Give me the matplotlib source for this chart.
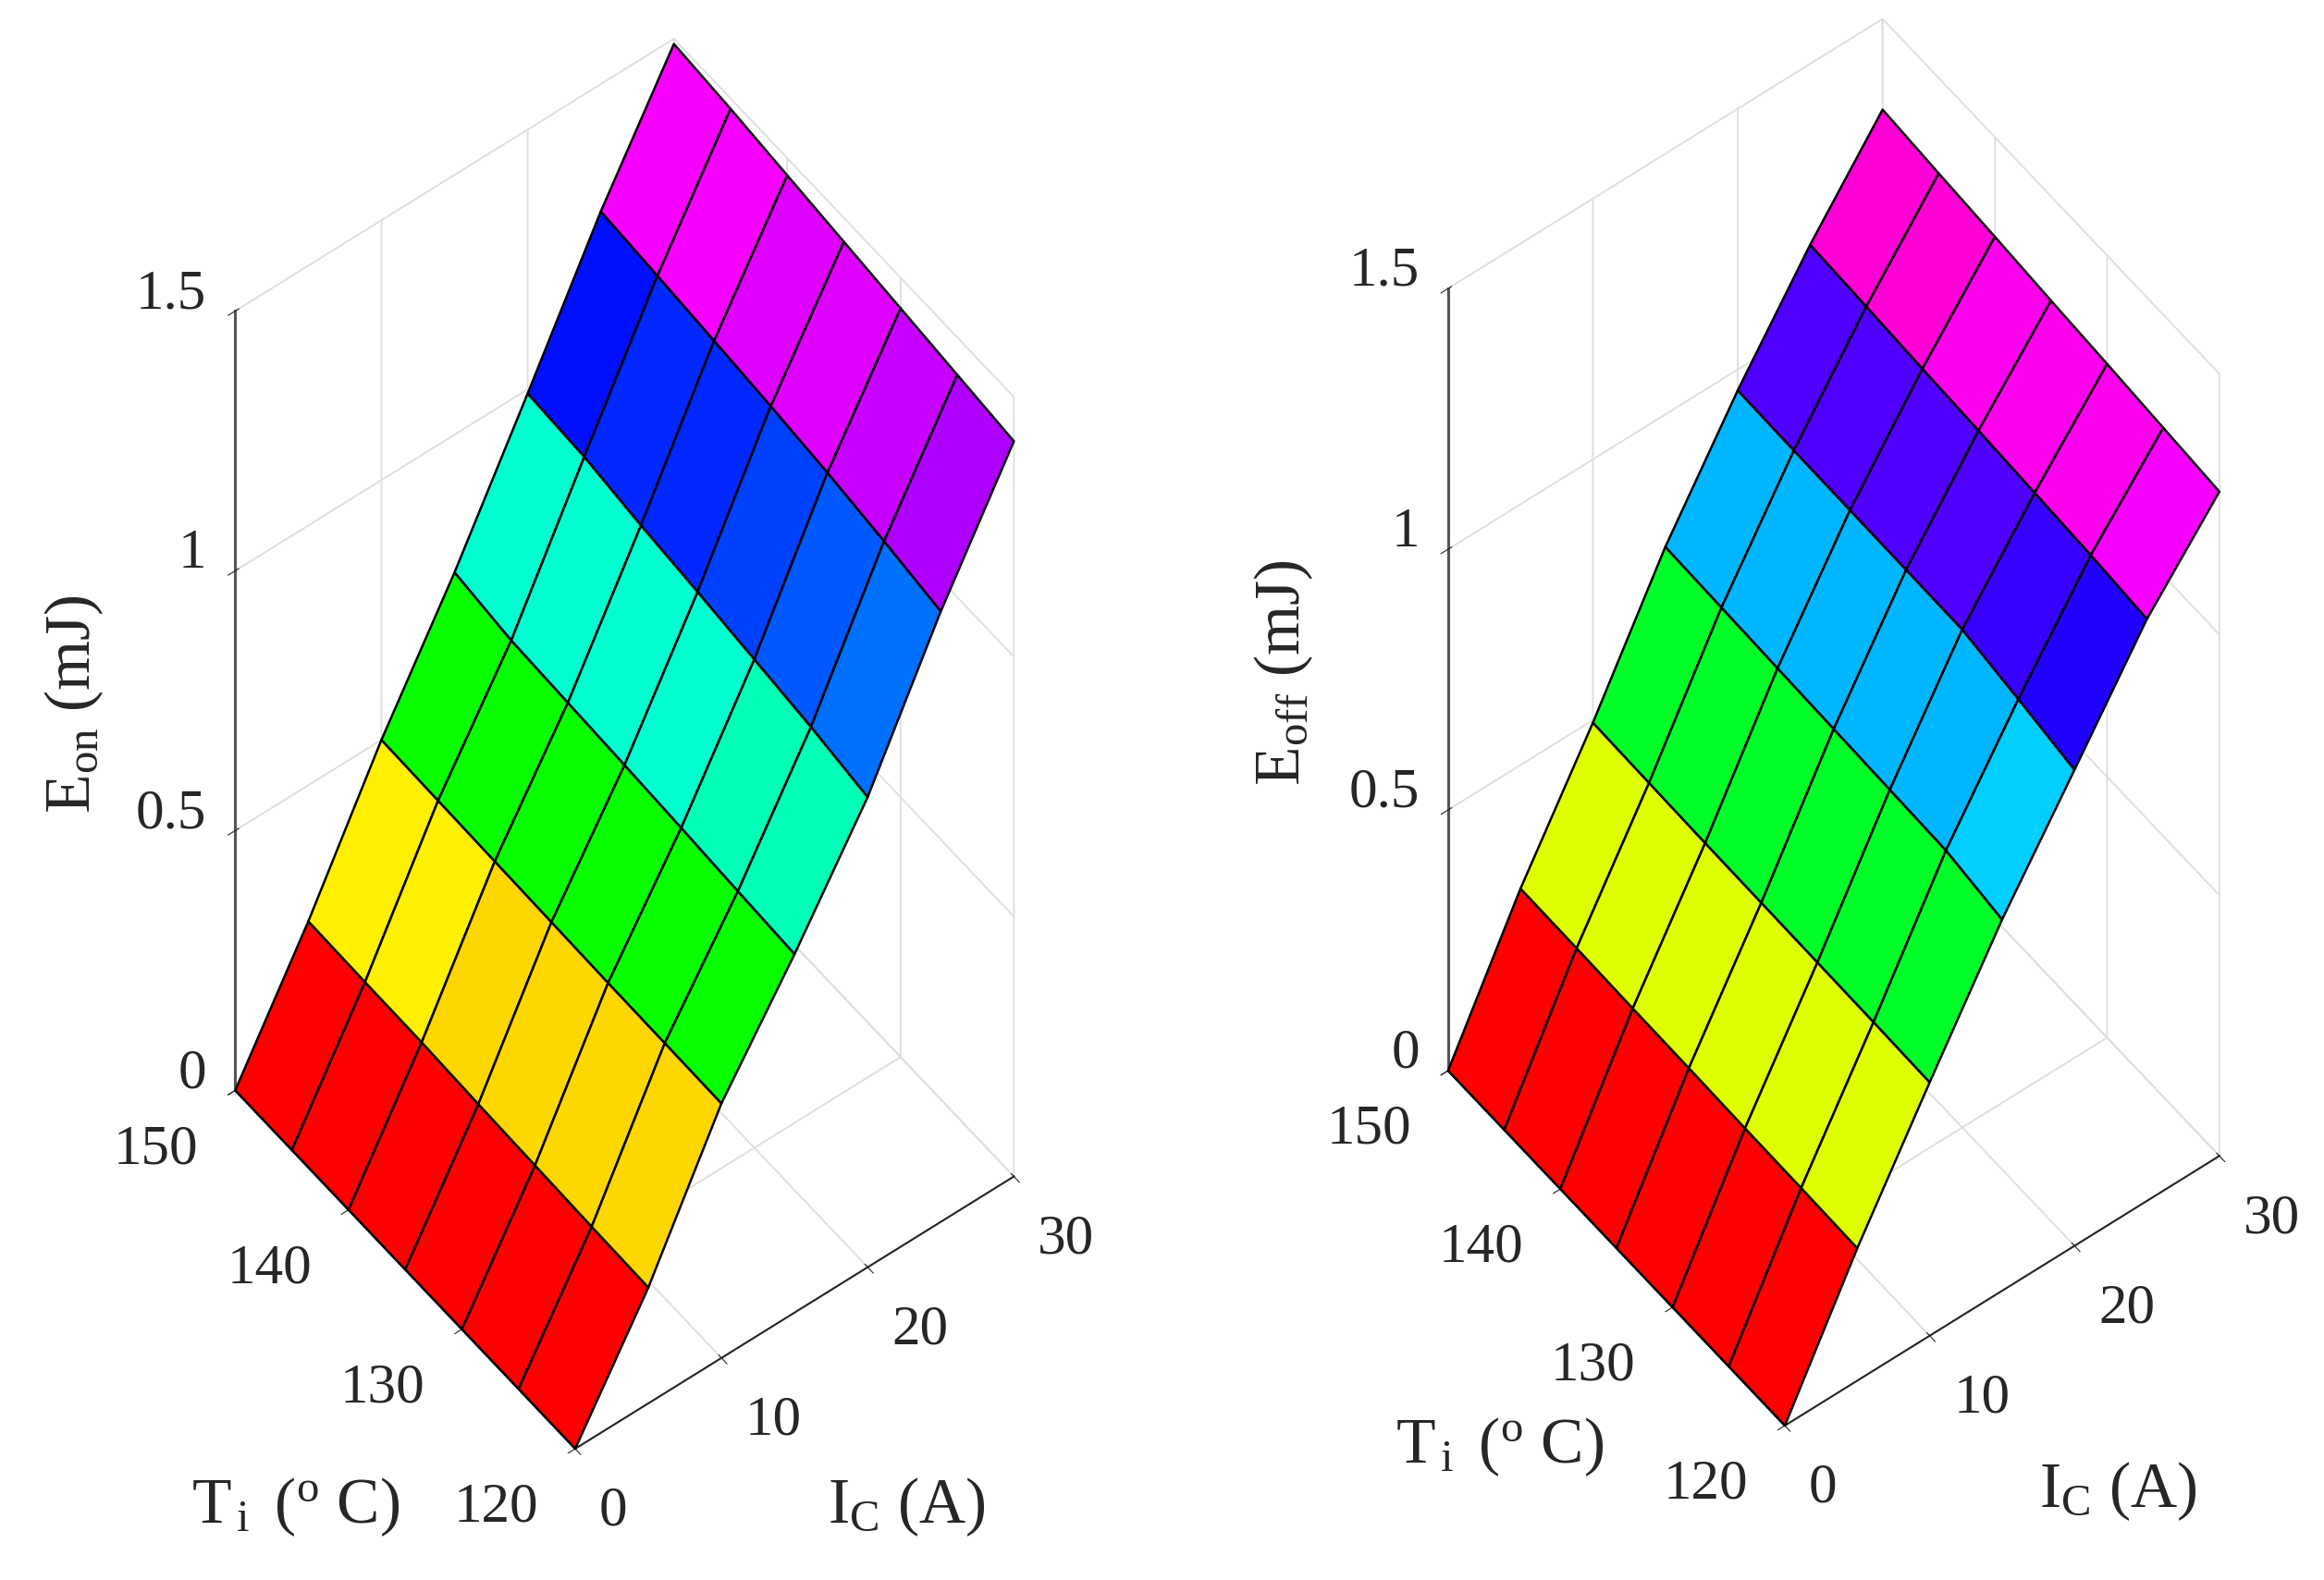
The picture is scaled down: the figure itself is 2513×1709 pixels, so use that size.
import matplotlib
matplotlib.use('Agg')
import matplotlib.pyplot as plt
import numpy as np
from matplotlib.colors import hsv_to_rgb
from matplotlib.ticker import NullFormatter
from mpl_toolkits.mplot3d import proj3d

plt.rcParams['font.family'] = 'Liberation Serif'
plt.rcParams['mathtext.fontset'] = 'custom'
plt.rcParams['mathtext.rm'] = 'Liberation Serif'
plt.rcParams['mathtext.it'] = 'Liberation Serif:italic'
plt.rcParams['grid.color'] = '#dedede'
plt.rcParams['grid.linewidth'] = 1.3

# collector current (A) and junction temperature (deg C)
ic = [0, 5, 10, 15, 20, 25, 30]
tj = [120, 125, 130, 135, 140, 145, 150]

# switching energies in mJ, one row per IC value, columns follow tj
e_on = [
    [0.000, 0.000, 0.000, 0.000, 0.000, 0.000, 0.000],
    [0.223, 0.225, 0.228, 0.231, 0.235, 0.236, 0.238],
    [0.490, 0.491, 0.492, 0.494, 0.496, 0.498, 0.500],
    [0.690, 0.696, 0.703, 0.709, 0.714, 0.719, 0.735],
    [0.905, 0.925, 0.940, 0.955, 0.968, 0.985, 0.992],
    [1.175, 1.195, 1.212, 1.225, 1.236, 1.246, 1.255],
    [1.415, 1.428, 1.441, 1.454, 1.467, 1.480, 1.490],
]
e_off = [
    [0.000, 0.000, 0.000, 0.000, 0.000, 0.000, 0.000],
    [0.254, 0.256, 0.257, 0.259, 0.260, 0.262, 0.263],
    [0.486, 0.488, 0.489, 0.490, 0.491, 0.493, 0.495],
    [0.712, 0.731, 0.734, 0.737, 0.740, 0.743, 0.746],
    [0.913, 0.935, 0.955, 0.956, 0.957, 0.958, 0.960],
    [1.116, 1.125, 1.131, 1.137, 1.142, 1.148, 1.153],
    [1.274, 1.283, 1.292, 1.300, 1.309, 1.317, 1.326],
]

ic_ticks = [0, 10, 20, 30]
tj_ticks = [120, 130, 140, 150]
e_ticks = [0, 0.5, 1, 1.5]

fig = plt.figure(figsize=(25.13, 17.09), dpi=100)
W, H = fig.bbox.width, fig.bbox.height
INK = '#262626'


def hsv64(z):
    # matlab style: hsv(64) colormap, flat shading from first vertex
    idx = np.floor((z - z.min()) / (z.max() - z.min()) * 64)
    idx = np.clip(idx, 0, 63)
    hsv = np.stack([idx / 64, np.ones_like(idx), np.ones_like(idx)], axis=-1)
    return hsv_to_rgb(hsv)


def make_ax(rect, energy):
    ax = fig.add_axes(rect, projection='3d')
    X, Y = np.meshgrid(ic, tj)
    Z = np.array(energy).T
    ax.plot_surface(X, Y, Z, facecolors=hsv64(Z), edgecolor='k',
                    linewidth=1.8, shade=False, rstride=1, cstride=1)
    ax.set_proj_type('ortho')
    ax.view_init(elev=54, azim=-127.5)
    ax.set_xlim(0, 30)
    ax.set_ylim(120, 150)
    ax.set_zlim(0, 1.5)
    ax.set_xticks(ic_ticks)
    ax.set_yticks(tj_ticks)
    ax.set_zticks(e_ticks)
    for axis in (ax.xaxis, ax.yaxis, ax.zaxis):
        axis.set_major_formatter(NullFormatter())
        axis.set_pane_color((1, 1, 1, 0))
        axis.pane.set_edgecolor('#dedede')
        axis.line.set_color(INK)
        axis.line.set_linewidth(1.5)
    ax.zaxis.line.set_linewidth(2.2)
    ax.zaxis.line.set_color('#555555')
    ax.tick_params(colors=INK, width=1.5)
    ax.set_facecolor((1, 1, 1, 0))
    return ax


def to_px(ax, xs, ys, zs):
    px, py, _ = proj3d.proj_transform(np.asarray(xs, float), np.asarray(ys, float),
                                      np.asarray(zs, float), ax.M)
    return ax.transData.transform(np.column_stack([px, py]))


def place(ax, o, b, a, aspect):
    # scale/shift the square axes so the box corners land on target pixels
    ax.set_box_aspect(aspect)
    fig.canvas.draw()
    d = to_px(ax, [0, 0, 30, 0], [120, 150, 120, 150], [0, 0, 0, 1.5])
    f = (a[0] - b[0]) / (d[2, 0] - d[1, 0])
    bb = ax.get_position()
    c = np.array([(bb.x0 + bb.width / 2) * W, (bb.y0 + bb.height / 2) * H])
    nc = np.array(o) - f * (d[0] - c)
    w = bb.width * W * f
    h = bb.height * H * f
    ax.set_position([(nc[0] - w / 2) / W, (nc[1] - h / 2) / H, w / W, h / H])
    return (d[3, 1] - d[1, 1]) * f


def fit(ax, o, b, a, zlen):
    aspect = [1.0, 1.01, 2.42]
    for _ in range(4):
        place(ax, o, b, a, aspect)
        zcur = place(ax, o, b, a, aspect)
        aspect[2] *= zlen / zcur
    place(ax, o, b, a, aspect)
    place(ax, o, b, a, aspect)


ax1 = make_ax([0.02, 0.05, 0.45, 0.9], e_on)
ax2 = make_ax([0.52, 0.05, 0.45, 0.9], e_off)

# target pixel positions of box corners (origin bottom-left)
fit(ax1, (622, H - 1567), (256, H - 1179), (1098, H - 1272), 843)
fit(ax2, (1930, H - 1542), (1567, H - 1158), (2401, H - 1254), 846)
fig.canvas.draw()

tick_kw = dict(fontsize=44, color=INK)


def tick_labels(ax):
    n = len(ic_ticks)
    for (px, py), t in zip(to_px(ax, ic_ticks, [120] * n, [0] * n), ic_ticks):
        fig.text((px + 26) / W, (py - 68) / H, f'{t:g}', ha='left', va='center', **tick_kw)
    n = len(tj_ticks)
    for (px, py), t in zip(to_px(ax, [0] * n, tj_ticks, [0] * n), tj_ticks):
        fig.text((px - 40) / W, (py - 64) / H, f'{t:g}', ha='right', va='center', **tick_kw)
    n = len(e_ticks)
    for (px, py), t in zip(to_px(ax, [0] * n, [150] * n, e_ticks), e_ticks):
        fig.text((px - 31) / W, (py + 18) / H, f'{t:g}', ha='right', va='center', **tick_kw)


tick_labels(ax1)
tick_labels(ax2)


def fx(x):
    return x / W


def fy(y):
    return 1 - y / H


lab = dict(fontsize=50, color=INK)
tlab = r'T$_{\mathrm{\,i}}\,$ ($^{\mathrm{o}}$ C)'
fig.text(fx(80), fy(762), r'E$_{\mathrm{on}}$ (mJ)', rotation=90, ha='center', va='center', **lab)
fig.text(fx(207), fy(1647), tlab, ha='left', va='baseline', **lab)
fig.text(fx(895), fy(1647), r'I$_{\mathrm{C}}$ (A)', ha='left', va='baseline', **lab)
fig.text(fx(1388), fy(728), r'E$_{\mathrm{off}}$ (mJ)', rotation=90, ha='center', va='center', **lab)
fig.text(fx(1509), fy(1582), tlab, ha='left', va='baseline', **lab)
fig.text(fx(2205), fy(1630), r'I$_{\mathrm{C}}$ (A)', ha='left', va='baseline', **lab)

fig.savefig('out.png', dpi=100, facecolor='white')
